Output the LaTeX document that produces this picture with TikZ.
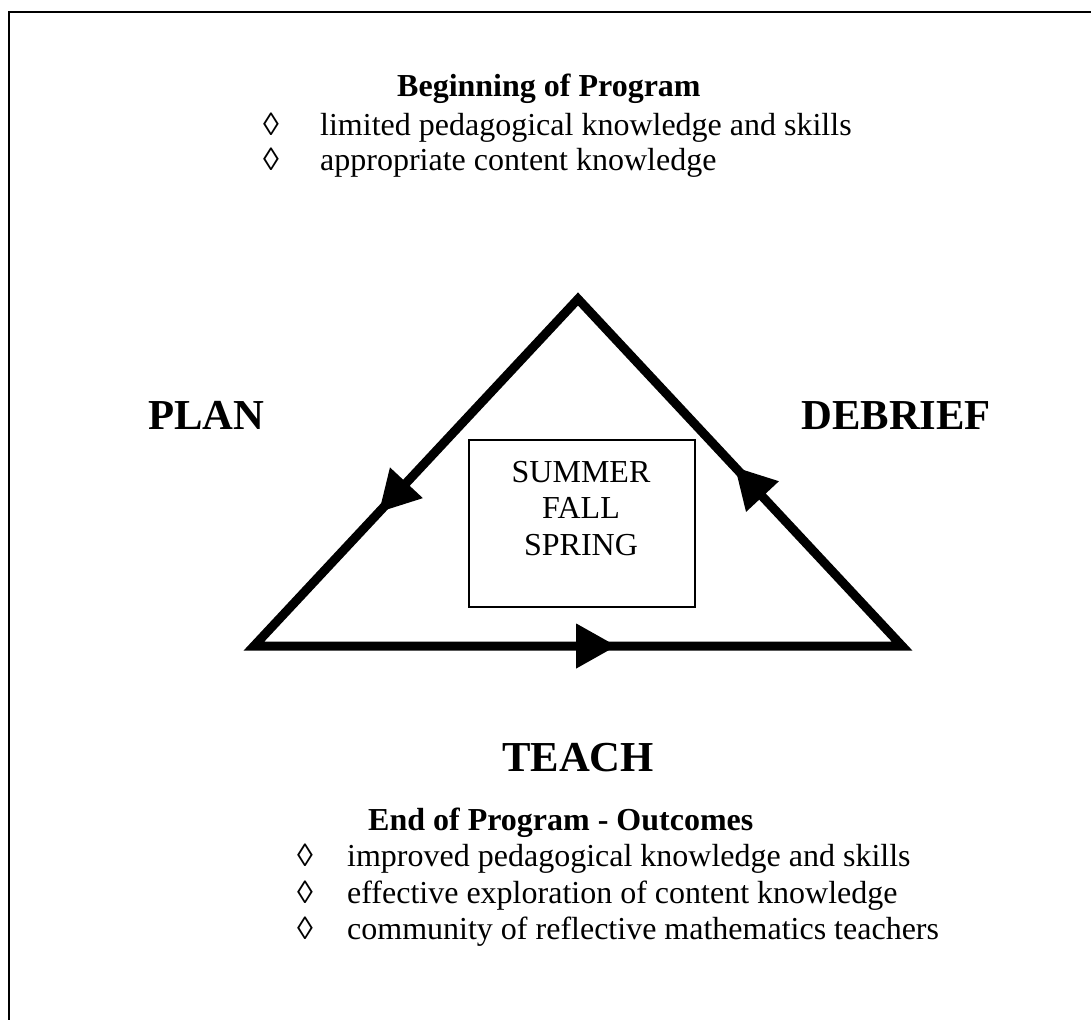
\documentclass[tikz,border=0pt]{standalone}
\usepackage{fontspec}
\setmainfont{Liberation Serif}
\usetikzlibrary{decorations.markings,calc}

\tikzset{
  frameline/.style={line width=2.5pt, line cap=rect},
  cycleline/.style={line width=9pt, line join=miter, miter limit=10},
  headmark/.style={decoration={markings,
      mark=at position #1 with {\fill (0pt,0pt) -- (-40pt,22.5pt) -- (-40pt,-22.5pt) -- cycle;}},
      decorate},
  stage/.style={font=\fontsize{42.7}{49}\selectfont\bfseries, inner sep=0pt},
  body/.style={font=\fontsize{32}{36.8}\selectfont, inner sep=0pt},
  heading/.style={font=\fontsize{32}{36.8}\selectfont\bfseries, inner sep=0pt},
  seasonbox/.style={draw, line width=1.5pt, inner sep=0pt},
}

\begin{document}
\begin{tikzpicture}[x=1pt, y=-1pt]
  \useasboundingbox (0,0) rectangle (1091,1019);

  % open frame: left and top edges only
  \coordinate (fbottom) at (9,1019);
  \coordinate (fcorner) at (9,12);
  \coordinate (fright) at (1091,12);
  \draw[frameline] (fbottom) -- (fcorner) -- (fright);

  % program start
  \node[heading, anchor=base west] (starthead) at (397,97) {Beginning of Program};
  \node[body, anchor=base] (sbul1) at (271,136) {◊};
  \node[body, anchor=base west] (start1) at (320,136) {limited pedagogical knowledge and skills};
  \node[body, anchor=base] (sbul2) at (271,171) {◊};
  \node[body, anchor=base west] (start2) at (320,171) {appropriate content knowledge};

  % plan / teach / debrief cycle
  \coordinate (apex) at (578,299);
  \coordinate (lcorner) at (254,646);
  \coordinate (rcorner) at (902,646);
  \draw[cycleline] (apex) -- (lcorner) -- (rcorner) -- cycle;
  \path[headmark=0.614] (apex) -- (lcorner);
  \path[headmark=0.559] (lcorner) -- (rcorner);
  \path[headmark=0.515] (rcorner) -- (apex);

  \node[stage, anchor=base west] (plan) at (148,429) {PLAN};
  \node[stage, anchor=base west] (debrief) at (801,429) {DEBRIEF};
  \node[stage, anchor=base] (teach) at (578,771) {TEACH};

  % semesters
  \node[seasonbox, minimum width=226pt, minimum height=167pt] (seasons) at (582,523.5) {};
  \node[body, anchor=base] (summer) at (581,482) {SUMMER};
  \node[body, anchor=base] (fall) at (581,518) {FALL};
  \node[body, anchor=base] (spring) at (581,555) {SPRING};

  % program outcomes
  \node[heading, anchor=base west] (endhead) at (368,830) {End of Program - Outcomes};
  \node[body, anchor=base] (ebul1) at (305,866.6) {◊};
  \node[body, anchor=base west] (end1) at (347,866.6) {improved pedagogical knowledge and skills};
  \node[body, anchor=base] (ebul2) at (305,903.2) {◊};
  \node[body, anchor=base west] (end2) at (347,903.2) {effective exploration of content knowledge};
  \node[body, anchor=base] (ebul3) at (305,939.8) {◊};
  \node[body, anchor=base west] (end3) at (347,939.8) {community of reflective mathematics teachers};
\end{tikzpicture}
\end{document}
